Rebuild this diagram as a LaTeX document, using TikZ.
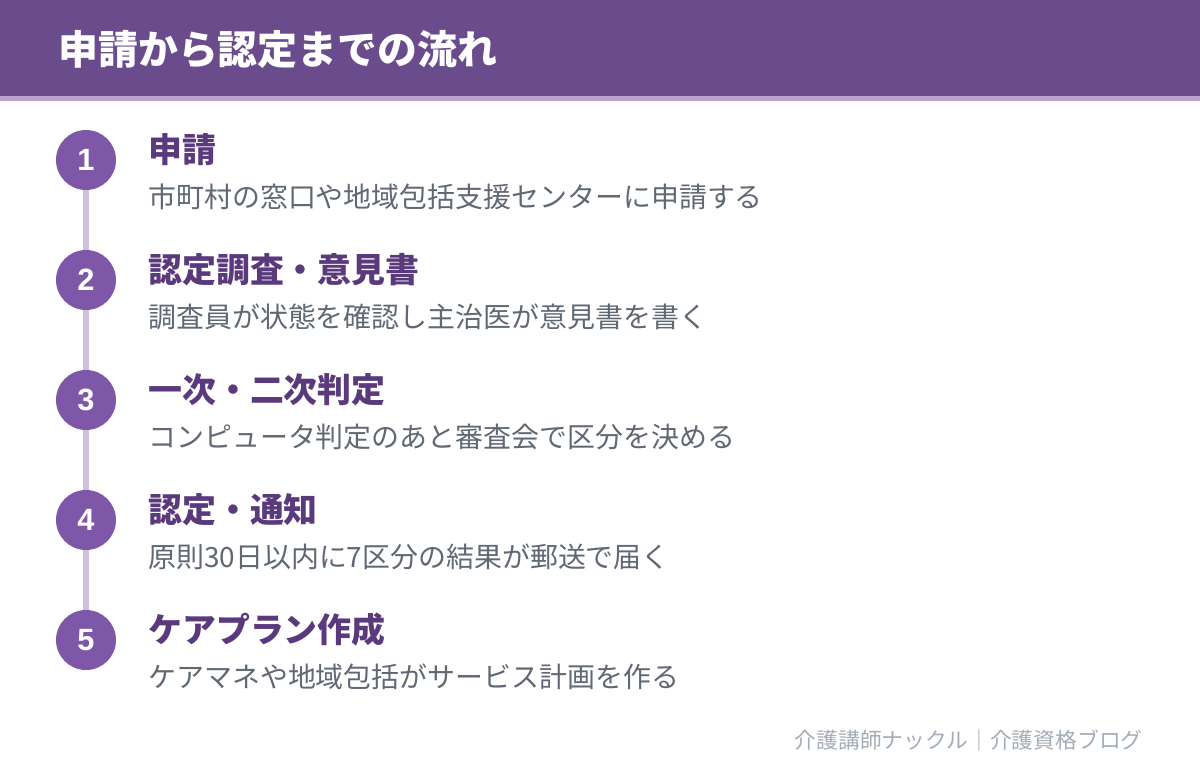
\documentclass[tikz,border=0pt]{standalone}
\usepackage{fontspec}
\usepackage{tikz}
\usetikzlibrary{positioning,calc}
\newfontfamily\jp{Noto Sans CJK JP}
\newfontfamily\num{Liberation Sans}
\definecolor{headbar}{HTML}{6A4C8C}
\definecolor{headline}{HTML}{B9A3D0}
\definecolor{stepdot}{HTML}{7E57A8}
\definecolor{spine}{HTML}{CFC0E0}
\definecolor{steptitle}{HTML}{5A3A7C}
\definecolor{stepdesc}{HTML}{5F6873}
\definecolor{footgray}{HTML}{A3ADB8}

\begin{document}
\begin{tikzpicture}[x=0.02cm,y=-0.02cm,
	dot/.style={circle,fill=stepdot,minimum size=1.2cm,inner sep=0pt,
		text=white,font=\num\bfseries\fontsize{17.5}{18}\selectfont},
	title/.style={anchor=west,inner sep=0pt,text=steptitle,
		font=\jp\bfseries\fontsize{19.3}{22}\selectfont},
	desc/.style={anchor=west,inner sep=0pt,text=stepdesc,
		font=\jp\fontsize{15.9}{18}\selectfont}]
	\useasboundingbox (0,0) rectangle (1200,772);
	\fill[white] (0,0) rectangle (1200,772);
	\fill[headbar] (0,0) rectangle (1200,96);
	\fill[headline] (0,96) rectangle (1200,101);
	\node[anchor=west,inner sep=0pt,text=white,font=\jp\bfseries\fontsize{22.7}{26}\selectfont]
		(head) at (58,49) {申請から認定までの流れ};
	% steps
	\foreach \n/\t/\d [count=\i] in {%
		1/申請/市町村の窓口や地域包括支援センターに申請する,
		2/認定調査・意見書/調査員が状態を確認し主治医が意見書を書く,
		3/一次・二次判定/コンピュータ判定のあと審査会で区分を決める,
		4/認定・通知/原則30日以内に7区分の結果が郵送で届く,
		5/ケアプラン作成/ケアマネや地域包括がサービス計画を作る}{
		\node[dot] (dot\i) at (86,40+120*\i) {\n};
		\node[title] (title\i) at (148,30+120*\i) {\t};
		\node[desc] (desc\i) at (148,77+120*\i) {\d};
	}
	\foreach \i [evaluate=\i as \j using int(\i+1)] in {1,...,4}
		\draw[spine,line width=3.5pt] (dot\i.south) -- (dot\j.north);
	\node[anchor=east,inner sep=0pt,text=footgray,font=\jp\fontsize{12.4}{14}\selectfont]
		(foot) at (1143,740) {介護講師ナックル｜介護資格ブログ};
\end{tikzpicture}
\end{document}
